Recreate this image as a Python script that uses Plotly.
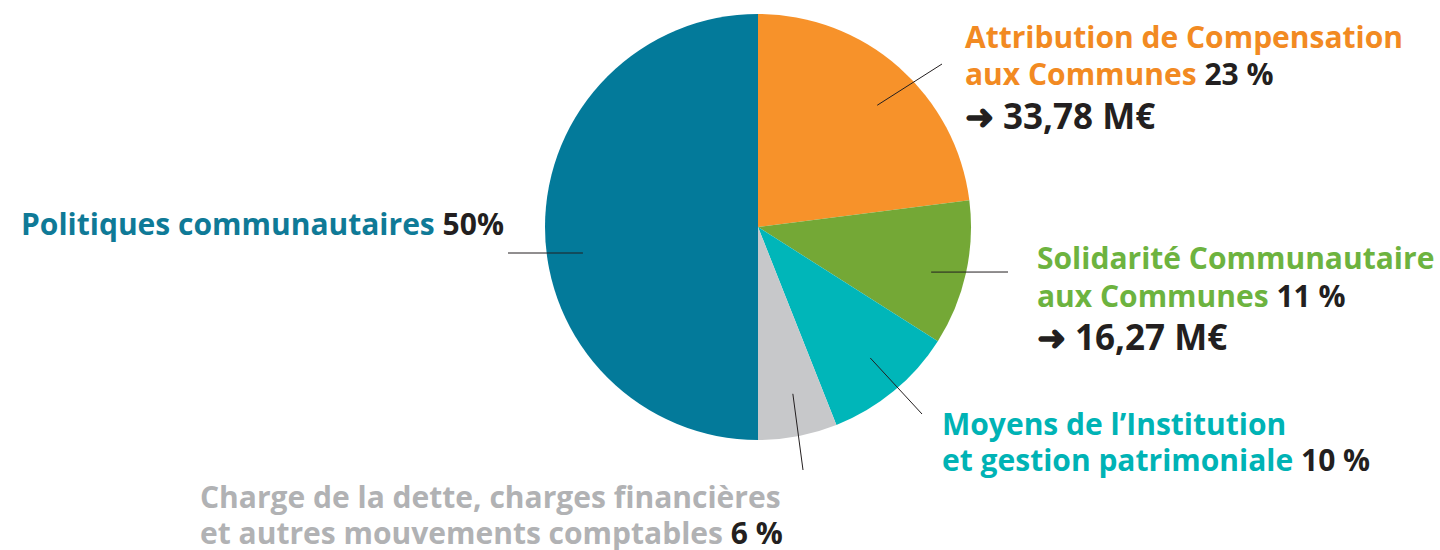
import math
import plotly.graph_objects as go

categories = [
    "Attribution de Compensation aux Communes",
    "Solidarité Communautaire aux Communes",
    "Moyens de l’Institution et gestion patrimoniale",
    "Charge de la dette, charges financières et autres mouvements comptables",
    "Politiques communautaires",
]
shares = [23, 11, 10, 6, 50]
pct_labels = ["23 %", "11 %", "10 %", "6 %", "50 %"]
amount_labels = ["➜ 33,78 M€", "➜ 16,27 M€", None, None, None]
slice_colors = ["#F7922A", "#74A836", "#00B6B9", "#C7C8CA", "#037A9A"]
text_colors = ["#F28A22", "#6DB33F", "#00B3B5", "#B1B2B4", "#0F7A97"]
DARK = "#231F20"
FONT = "Open Sans"

W, H = 1440, 550
cx, cy, R = 758, 227, 213

fig = go.Figure(go.Pie(
    labels=categories, values=shares, sort=False, direction="clockwise",
    rotation=0, marker=dict(colors=slice_colors, line=dict(width=0)),
    textinfo="none", hoverinfo="label+percent", showlegend=False,
    domain=dict(x=[(cx - R) / W, (cx + R) / W], y=[1 - (cy + R) / H, 1 - (cy - R) / H]),
))

def px(x, y):
    return x / W, 1 - y / H

leaders = [(3, 0.80, (942, 64)), (2, 0.84, (1008, 272)), (-1, 0.81, (922, 414)),
           (-1, 0.80, (803, 470)), (-8, 0.83, (508, 253))]
cum = 0
shapes = []
for i, v in enumerate(shares):
    mid = (cum + v / 2) / sum(shares) * 360
    cum += v
    tweak, rf, (ex, ey) = leaders[i]
    a = math.radians(mid + tweak)
    sx = cx + rf * R * math.sin(a)
    sy = cy - rf * R * math.cos(a)
    if i == 4:
        sy = ey
    x0, y0 = px(sx, sy)
    x1, y1 = px(ex, ey)
    shapes.append(dict(type="line", xref="paper", yref="paper", x0=x0, y0=y0, x1=x1, y1=y1,
                       line=dict(color=DARK, width=1)))

def span(txt, col):
    return f"<span style='color:{col}'>{txt}</span>"

ann = []
def add(text, x, y, size, xanchor="left"):
    xx, yy = px(x, y)
    ann.append(dict(text=text, x=xx, y=yy, xref="paper", yref="paper", xanchor=xanchor,
                    yanchor="middle", showarrow=False, font=dict(family=FONT, size=size, weight="bold")))

c = text_colors
S, B = 30, 35
add(span("Attribution de Compensation", c[0]), 963, 37, S)
add(span("aux Communes ", c[0]) + span(pct_labels[0], DARK), 963, 74, S)
add(span(amount_labels[0], DARK), 963, 115, B)
add(span("Solidarité Communautaire", c[1]), 1035, 257, S)
add(span("aux Communes ", c[1]) + span(pct_labels[1], DARK), 1035, 295, S)
add(span(amount_labels[1], DARK), 1035, 336, B)
add(span("Moyens de l’Institution", c[2]), 940, 423, S)
add(span("et gestion patrimoniale ", c[2]) + span(pct_labels[2], DARK), 940, 460, S)
add(span("Charge de la dette, charges financières", c[3]), 198, 496, S)
add(span("et autres mouvements comptables ", c[3]) + span(pct_labels[3], DARK), 198, 532, S)
add(span("Politiques communautaires ", c[4]) + span(pct_labels[4].replace(" ", ""), DARK), 506, 223, S, "right")

fig.update_layout(width=W, height=H, margin=dict(l=0, r=0, t=0, b=0),
                  paper_bgcolor="white", plot_bgcolor="white",
                  shapes=shapes, annotations=ann)
fig.write_html("out.html", config={"displayModeBar": False},
               post_script="document.body.style.margin='0';document.body.style.overflow='hidden';")
